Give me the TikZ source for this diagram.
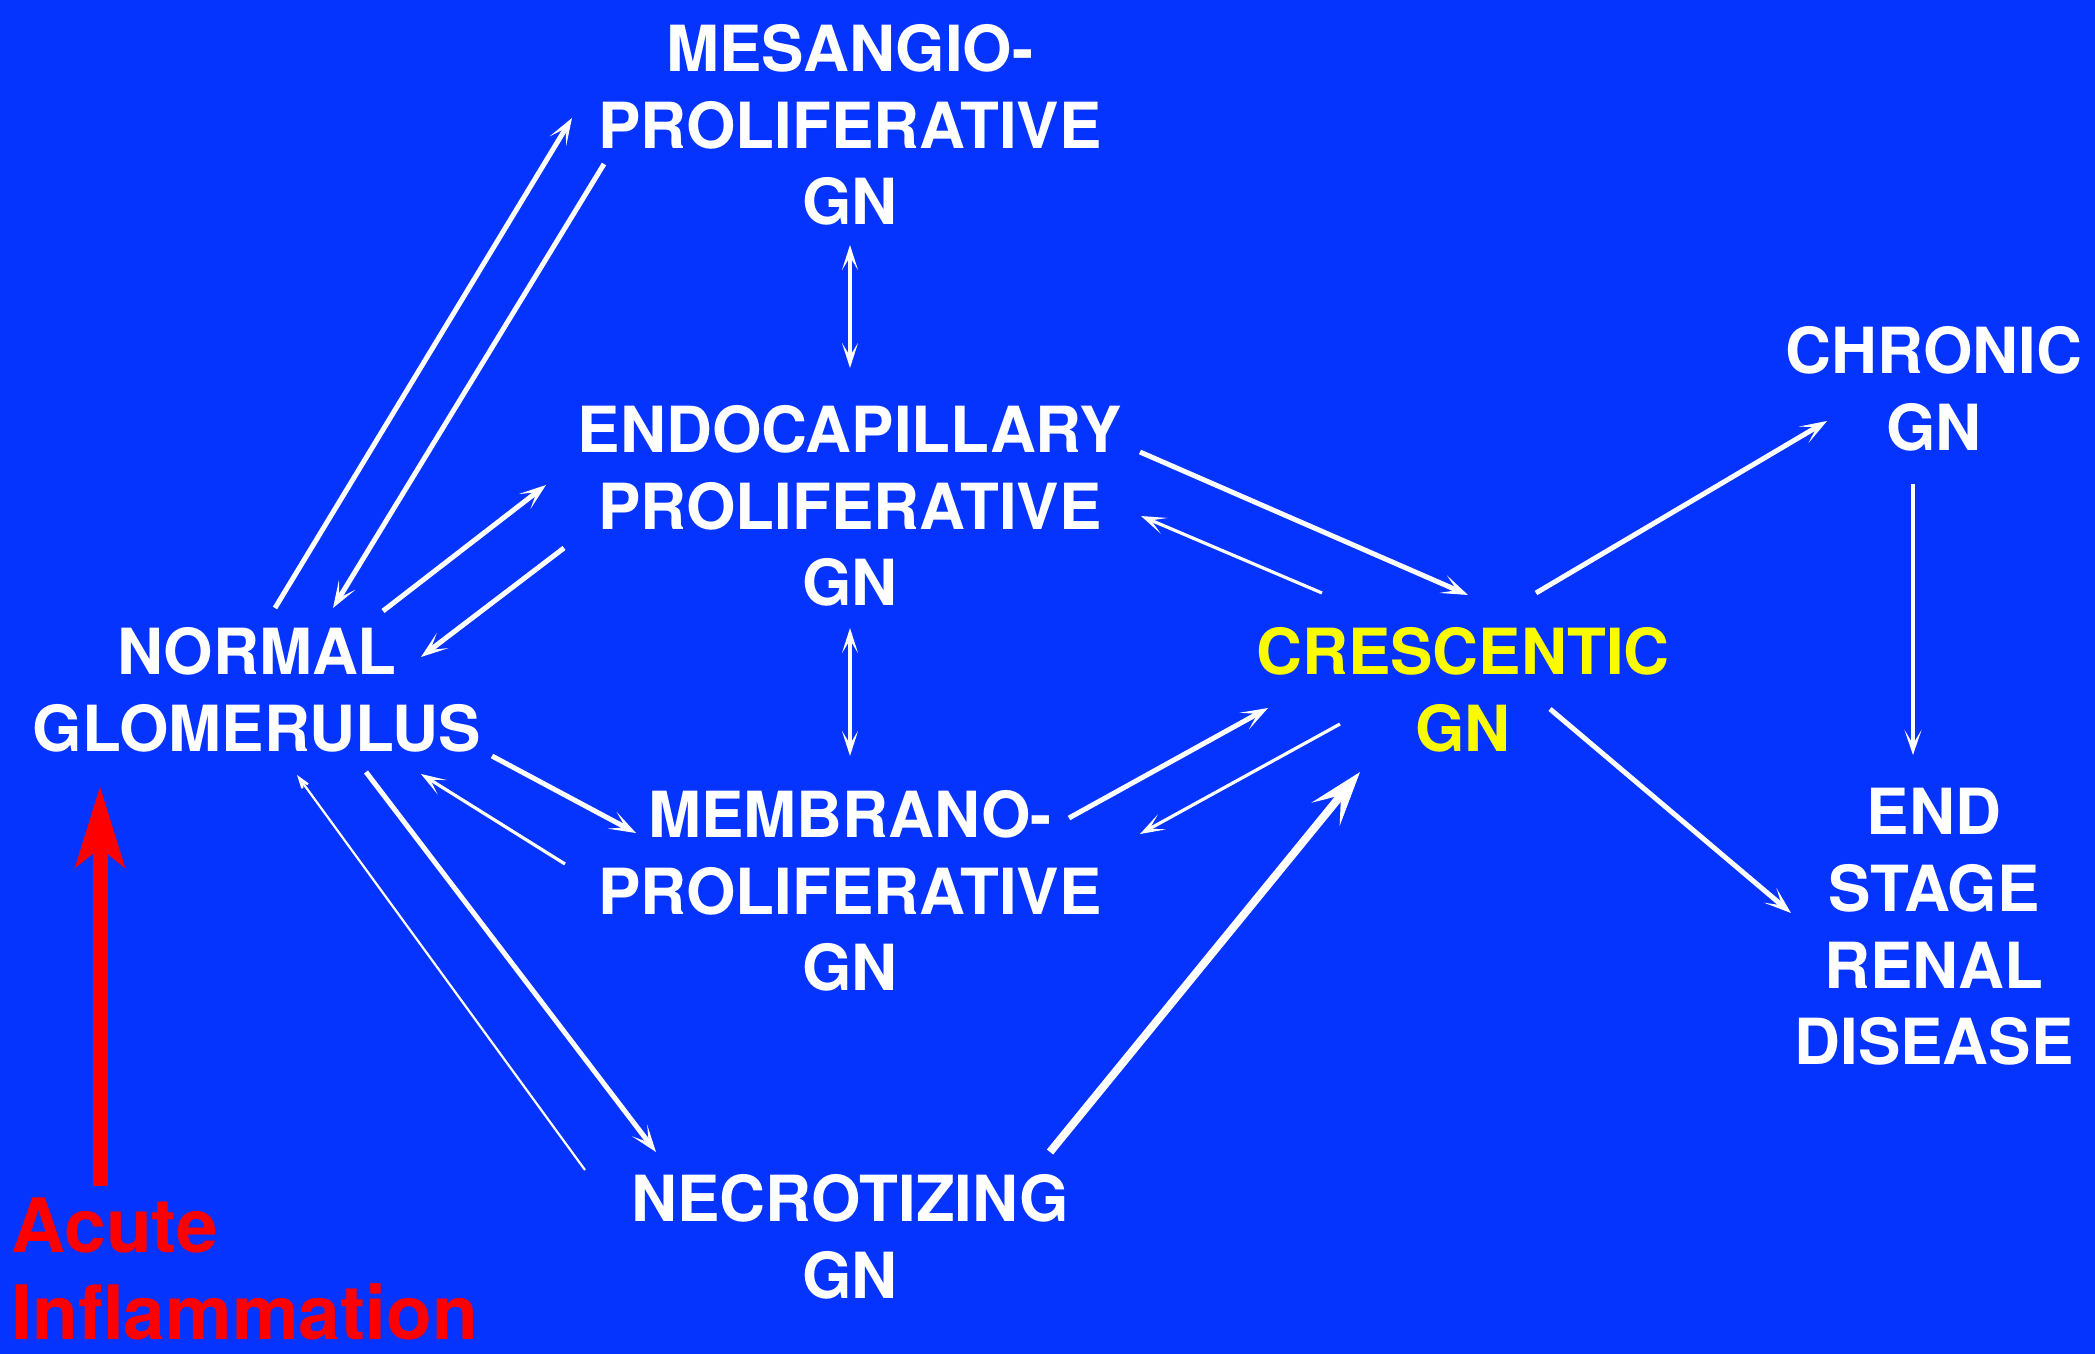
\documentclass[tikz,border=0pt]{standalone}
\usepackage{fontspec}
\setmainfont{TeX Gyre Heros}
\usetikzlibrary{arrows.meta}
\definecolor{bgblue}{RGB}{5,51,255}
\definecolor{ylw}{RGB}{250,250,0}
\definecolor{rd}{RGB}{255,0,0}
\begin{document}
\begin{tikzpicture}[x=0.5pt,y=-0.5pt,
  lbl/.style={text=white, font=\fontsize{31.8}{38.3}\selectfont\bfseries, align=center, inner sep=0pt},
  ar/.style={white, line width=2.5pt, arrows={-Stealth[length=13.5pt,width=9.5pt,inset=7.5pt]}},
  arm/.style={white, line width=1.6pt, arrows={-Stealth[length=12.5pt,width=8.5pt,inset=7pt]}},
  ardbl/.style={white, line width=1.6pt, arrows={Stealth[length=12.5pt,width=8pt,inset=6.5pt]-Stealth[length=12.5pt,width=8pt,inset=6.5pt]}},
  arl/.style={white, line width=1.1pt, arrows={-Stealth[length=12pt,width=8pt,inset=7pt]}},
  arh/.style={white, line width=4pt, arrows={-Stealth[length=27pt,width=18pt,inset=12pt]}},
  redar/.style={rd, line width=7.5pt, arrows={-Stealth[length=40pt,width=24pt,inset=9pt]}}
]
\fill[bgblue] (0,0) rectangle (2095,1354);
\useasboundingbox (0,0) rectangle (2095,1354);

% nodes
\node[lbl] (mes) at (850,125) {MESANGIO-\\PROLIFERATIVE\\GN};
\node[lbl] (endo) at (850,506) {ENDOCAPILLARY\\PROLIFERATIVE\\GN};
\node[lbl] (memb) at (850,891) {MEMBRANO-\\PROLIFERATIVE\\GN};
\node[lbl] (necro) at (850,1237) {NECROTIZING\\GN};
\node[lbl] (norm) at (257,690) {NORMAL\\GLOMERULUS};
\node[lbl, text=ylw] (cresc) at (1463,690) {CRESCENTIC\\GN};
\node[lbl] (chron) at (1934,389) {CHRONIC\\GN};
\node[lbl] (esrd) at (1934,927) {END\\STAGE\\RENAL\\DISEASE};
\node[lbl, text=rd, align=left, anchor=north west, font=\fontsize{37.5}{43.5}\selectfont\bfseries] (acute) at (11,1197) {Acute\\Inflammation};

% connector end points
\coordinate (nmA) at (275,608);  \coordinate (nmB) at (572,118);
\coordinate (mnA) at (604,164);  \coordinate (mnB) at (333,608);
\coordinate (neA) at (383,611);  \coordinate (neB) at (546,485);
\coordinate (enA) at (564,548);  \coordinate (enB) at (421,657);
\coordinate (meA) at (850,245);  \coordinate (meB) at (850,368);
\coordinate (emA) at (850,628);  \coordinate (emB) at (850,756);
\coordinate (nbA) at (492,756);  \coordinate (nbB) at (636,833);
\coordinate (bnA) at (565,864);  \coordinate (bnB) at (421,774);
\coordinate (nxA) at (366,772);  \coordinate (nxB) at (656,1152);
\coordinate (xnA) at (585,1170); \coordinate (xnB) at (297,775);
\coordinate (xcA) at (1050,1152); \coordinate (xcB) at (1360,772);
\coordinate (bcA) at (1069,818); \coordinate (bcB) at (1268,708);
\coordinate (cbA) at (1340,724); \coordinate (cbB) at (1140,834);
\coordinate (ecA) at (1140,452); \coordinate (ecB) at (1468,595);
\coordinate (ceA) at (1322,593); \coordinate (ceB) at (1141,516);
\coordinate (chA) at (1536,593); \coordinate (chB) at (1827,421);
\coordinate (csA) at (1550,709); \coordinate (csB) at (1791,913);
\coordinate (hsA) at (1913,484); \coordinate (hsB) at (1913,755);
\coordinate (rA) at (100,1186);  \coordinate (rB) at (100,786);

% connectors
\draw[ar] (nmA) -- (nmB);
\draw[ar] (mnA) -- (mnB);
\draw[ar] (neA) -- (neB);
\draw[ar] (enA) -- (enB);
\draw[ardbl] (meA) -- (meB);
\draw[ardbl] (emA) -- (emB);
\draw[ar] (nbA) -- (nbB);
\draw[arm] (bnA) -- (bnB);
\draw[ar] (nxA) -- (nxB);
\draw[arl] (xnA) -- (xnB);
\draw[arh] (xcA) -- (xcB);
\draw[ar] (bcA) -- (bcB);
\draw[arm] (cbA) -- (cbB);
\draw[ar] (ecA) -- (ecB);
\draw[arm] (ceA) -- (ceB);
\draw[ar] (chA) -- (chB);
\draw[ar] (csA) -- (csB);
\draw[arm] (hsA) -- (hsB);
\draw[redar] (rA) -- (rB);
\end{tikzpicture}
\end{document}
